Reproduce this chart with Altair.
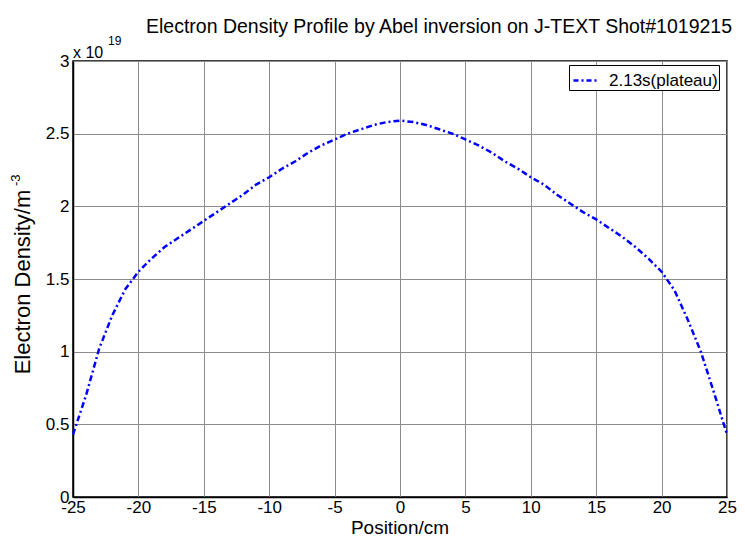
import altair as alt
import pandas as pd

positions = list(range(-25, 26))
density = [0.43, 0.70, 1.02, 1.25, 1.43, 1.55, 1.64, 1.72, 1.78, 1.84,
           1.90, 1.96, 2.02, 2.08, 2.15, 2.20, 2.26, 2.31, 2.37, 2.42,
           2.46, 2.50, 2.53, 2.56, 2.58, 2.59, 2.58, 2.56, 2.53, 2.50,
           2.46, 2.42, 2.37, 2.31, 2.26, 2.20, 2.15, 2.08, 2.02, 1.96,
           1.91, 1.85, 1.79, 1.72, 1.64, 1.55, 1.42, 1.22, 1.00, 0.72, 0.43]
series_name = "2.13s(plateau)"
x_ticks = list(range(-25, 30, 5))
y_ticks = [0, 0.5, 1, 1.5, 2, 2.5, 3]
title_text = "Electron Density Profile by Abel inversion on J-TEXT Shot#1019215"

FONT = "Liberation Sans, Arial, sans-serif"
W, H = 654, 436

df = pd.DataFrame({"pos": positions, "dens": density, "series": series_name})

xs = alt.Scale(domain=[-25, 25], nice=False, zero=False)
ys = alt.Scale(domain=[0, 3], nice=False)

line = alt.Chart(df).mark_line(strokeWidth=2.5, strokeDash=[6, 3, 2, 3]).encode(
    x=alt.X("pos:Q", scale=xs,
            axis=alt.Axis(values=x_ticks, title=None, grid=True, labelFlush=False,
                          labelExpr="toString(datum.value)",
                          tickSize=0, labelPadding=2)),
    y=alt.Y("dens:Q", scale=ys,
            axis=alt.Axis(values=y_ticks, title=None, grid=True, labelFlush=False,
                          labelExpr="toString(datum.value)",
                          tickSize=0, labelPadding=4)),
    color=alt.Color("series:N", scale=alt.Scale(range=["#0000ff"]),
                    legend=alt.Legend(title=None, orient="none",
                                      legendX=496, legendY=4,
                                      symbolType="stroke", symbolSize=676,
                                      symbolStrokeWidth=2.5,
                                      symbolDash=[5, 3, 2, 3],
                                      labelFontSize=17, labelFont=FONT,
                                      labelColor="black", labelOffset=8,
                                      strokeColor="black", fillColor="white",
                                      padding=1, symbolOffset=2)),
)

def txt(s, size, x, y, align="left", baseline="alphabetic", angle=0):
    kw = dict(align=align, baseline=baseline, fontSize=size, font=FONT, color="black")
    if angle:
        kw["angle"] = angle
    return alt.Chart(pd.DataFrame({"t": [s]})).mark_text(**kw).encode(
        text="t:N", x=alt.value(x), y=alt.value(y))

mult = txt("x 10", 16, 0, -3)
exp = txt("19", 12, 35, -16)
title = txt(title_text, 19.5, 366, -28, align="center")
xtitle = txt("Position/cm", 19, W / 2, 473, align="center")
ytitle = txt("Electron Density/m", 22, -43, 221, align="center", angle=270)
ysup = txt("-3", 13, -53, 125, angle=270)

chart = alt.layer(line, mult, exp, title, xtitle, ytitle, ysup).properties(
    width=W, height=H,
    autosize=alt.AutoSizeParams(type="none"),
    padding={"left": 65, "top": 53, "right": 10, "bottom": 40},
    background="white",
).configure_view(stroke="black", strokeWidth=1.5).configure_axis(
    labelFont=FONT, labelFontSize=17, labelColor="black",
    gridColor="#8c8c8c", gridWidth=1, domainColor="black", domainWidth=1.5,
)

chart.save("out.html", embed_options={"renderer": "svg", "actions": False})
